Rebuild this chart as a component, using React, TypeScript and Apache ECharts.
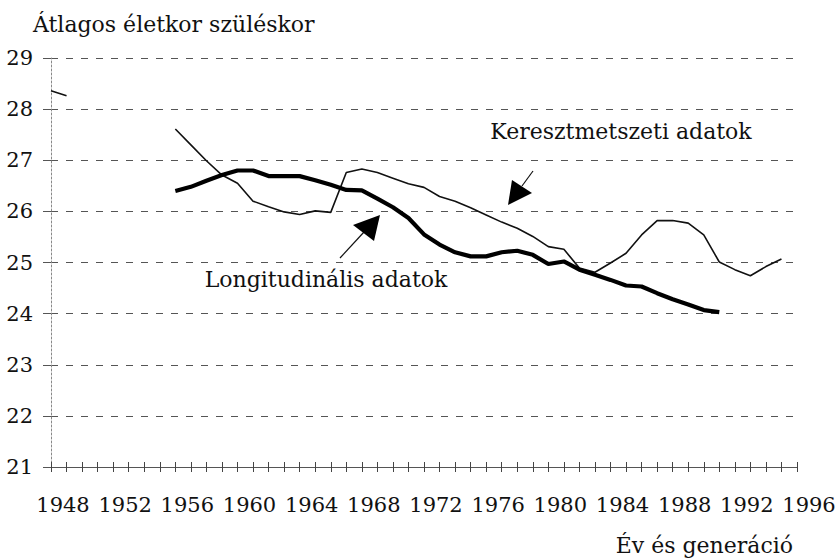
import React, { useEffect, useRef } from "react";
import * as echarts from "echarts";

const years = [
  1948, 1949, 1950, 1951, 1952, 1953, 1954, 1955, 1956, 1957, 1958, 1959,
  1960, 1961, 1962, 1963, 1964, 1965, 1966, 1967, 1968, 1969, 1970, 1971,
  1972, 1973, 1974, 1975, 1976, 1977, 1978, 1979, 1980, 1981, 1982, 1983,
  1984, 1985, 1986, 1987, 1988, 1989, 1990, 1991, 1992, 1993, 1994, 1995,
];

// Keresztmetszeti adatok (thin line)
const crossSectional: (number | null)[] = [
  28.36, 28.26, null, null, null, null, null, null,
  27.61, 27.3, 26.99, 26.71, 26.55, 26.2, 26.09, 25.99, 25.94, 26.01, 25.98,
  26.76, 26.83, 26.76, 26.65, 26.54, 26.47, 26.29, 26.2, 26.07, 25.93, 25.79,
  25.67, 25.51, 25.31, 25.26, 24.89, 24.81, 24.99, 25.18, 25.54, 25.82, 25.82,
  25.77, 25.54, 25.01, 24.86, 24.74, 24.92, 25.07,
];

// Longitudinális adatok (thick line)
const longitudinal: (number | null)[] = [
  null, null, null, null, null, null, null, null,
  26.4, 26.48, 26.6, 26.71, 26.8, 26.8, 26.69, 26.69, 26.69, 26.61, 26.52,
  26.42, 26.41, 26.25, 26.08, 25.87, 25.55, 25.35, 25.2, 25.12, 25.12, 25.2,
  25.23, 25.15, 24.97, 25.02, 24.86, 24.76, 24.66, 24.55, 24.53, 24.4, 24.28,
  24.18, 24.07, 24.03, null, null, null, null,
];

const yTitle = "Átlagos életkor szüléskor";
const xTitle = "Év és generáció";
const crossLabel = "Keresztmetszeti adatok";
const longLabel = "Longitudinális adatok";

export default function App() {
  const ref = useRef<HTMLDivElement>(null);
  useEffect(() => {
    const chart = echarts.init(ref.current!, null, { renderer: "svg" });
    const font = "DejaVu Serif";
    const ink = "#111";
    const tickStyle = { color: "#444", width: 1 };
    const txt = (text: string, x: number, y: number, align: string) => ({
      type: "text",
      x,
      y,
      style: {
        text,
        font: `22px "${font}"`,
        fontSize: 22,
        fontFamily: font,
        fill: ink,
        align,
        verticalAlign: "middle",
      },
    });
    chart.setOption({
      animation: false,
      backgroundColor: "#fff",
      textStyle: { fontFamily: font },
      grid: { left: 51, right: 43, top: 58, bottom: 93 },
      xAxis: [
        {
          type: "value",
          min: 1948,
          max: 1996,
          interval: 4,
          position: "bottom",
          axisLine: { show: true, lineStyle: { color: "#555", width: 1 } },
          axisTick: { show: true, length: 5, lineStyle: tickStyle },
          minorTick: { show: true, splitNumber: 4, length: 5, lineStyle: tickStyle },
          splitLine: { show: false },
          axisLabel: {
            color: ink,
            fontSize: 21,
            fontFamily: font,
            margin: 27,
            padding: [0, 0, 0, 24],
            showMinLabel: true,
            showMaxLabel: true,
            formatter: (v: number) => String(v),
          },
        },
        {
          type: "value",
          min: 1948,
          max: 1996,
          interval: 4,
          position: "top",
          offset: -409,
          axisLine: { show: false },
          axisTick: { show: true, length: 5, lineStyle: tickStyle },
          minorTick: { show: true, splitNumber: 4, length: 5, lineStyle: tickStyle },
          splitLine: { show: false },
          axisLabel: { show: false },
        },
      ],
      yAxis: {
        type: "value",
        min: 21,
        max: 29,
        interval: 1,
        axisLine: { show: true, lineStyle: { color: "#888", width: 1, type: [2, 2] } },
        axisTick: { show: true, length: 8, lineStyle: { color: "#555", width: 1 } },
        splitLine: { show: true, lineStyle: { color: "#555", width: 1, type: [7, 8] } },
        axisLabel: { color: ink, fontSize: 21, fontFamily: font, margin: 18 },
      },
      series: [
        {
          type: "line",
          name: crossLabel,
          xAxisIndex: 0,
          data: years.map((y, i) => [y, crossSectional[i] ?? "-"]),
          symbol: "none",
          showSymbol: false,
          connectNulls: false,
          lineStyle: { color: ink, width: 1.6 },
        },
        {
          type: "line",
          name: longLabel,
          xAxisIndex: 0,
          data: years.map((y, i) => [y, longitudinal[i] ?? "-"]),
          symbol: "none",
          showSymbol: false,
          connectNulls: false,
          lineStyle: { color: "#000", width: 4.2 },
        },
      ],
      graphic: [
        txt(yTitle, 33, 24, "left"),
        txt(xTitle, 793, 545, "right"),
        txt(crossLabel, 621, 131, "center"),
        txt(longLabel, 326, 279, "center"),
        {
          type: "line",
          shape: { x1: 533, y1: 171, x2: 522, y2: 186 },
          style: { stroke: ink, lineWidth: 1.2 },
        },
        {
          type: "polygon",
          shape: { points: [[508, 205], [512, 180], [532, 193]] },
          style: { fill: "#000" },
        },
        {
          type: "line",
          shape: { x1: 340, y1: 258, x2: 364, y2: 232 },
          style: { stroke: ink, lineWidth: 1.2 },
        },
        {
          type: "polygon",
          shape: { points: [[380, 215], [353, 225], [374, 241]] },
          style: { fill: "#000" },
        },
      ],
    });
    return () => chart.dispose();
  }, []);
  return (
    <div
      ref={ref}
      style={{ width: 840, height: 560, position: "fixed", left: 0, top: 0 }}
    />
  );
}
